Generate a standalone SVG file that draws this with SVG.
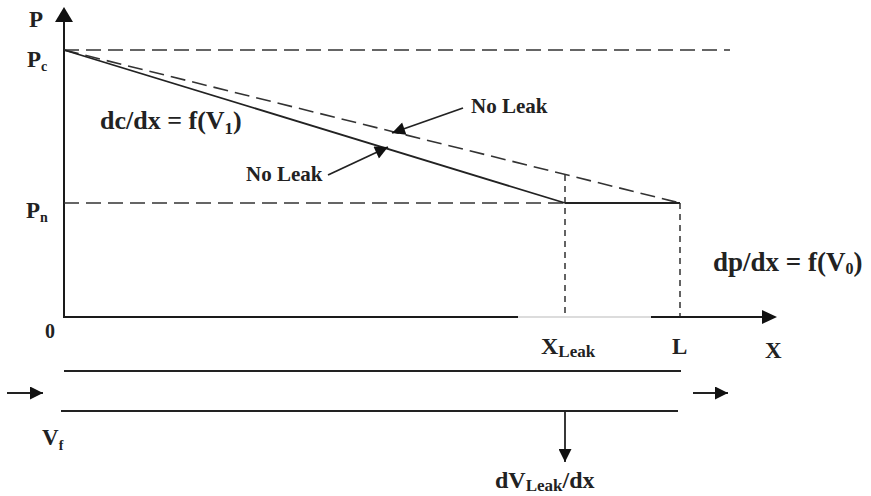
<svg xmlns="http://www.w3.org/2000/svg" width="871" height="496" viewBox="0 0 871 496">
<defs>
<style>
.ax{stroke:#1a1a1a;stroke-width:2;fill:none}
.ln{stroke:#222;stroke-width:1.8;fill:none}
.ds{stroke:#333;stroke-width:1.6;fill:none;stroke-dasharray:15 7}
.dv{stroke:#222;stroke-width:1.4;fill:none;stroke-dasharray:6 5}
.t{font-family:"Liberation Serif","Times New Roman",serif;font-weight:bold;fill:#222}
</style>
<marker id="ahs" viewBox="0 0 10 10" refX="10" refY="5" markerWidth="14" markerHeight="13" markerUnits="userSpaceOnUse" orient="auto"><path d="M0,0 L10,5 L0,10 z" fill="#111"/></marker>
</defs>
<rect width="871" height="496" fill="#fff"/>

<g id="axes">
<line class="ax" x1="64" y1="317" x2="64" y2="22"/>
<path d="M55,22 L64,7 L73,22 z" fill="#111"/>
<line class="ax" x1="63" y1="317" x2="518" y2="317"/>
<line x1="518" y1="317" x2="651" y2="317" stroke="#d0d0d0" stroke-width="1.5"/>
<line class="ax" x1="651" y1="317" x2="763" y2="317"/>
<path d="M762,310 L777,317 L762,324 z" fill="#111"/>
</g>

<g id="guides">
<line class="ds" x1="64" y1="50" x2="730" y2="50"/>
<line class="ds" x1="64" y1="203" x2="565" y2="203"/>
<line class="ds" x1="64" y1="50" x2="680" y2="203"/>
<line class="dv" x1="565" y1="175" x2="565" y2="317"/>
<line class="dv" x1="680" y1="203" x2="680" y2="317"/>
</g>

<g id="profile">
<line class="ln" x1="64" y1="50" x2="565" y2="203"/>
<line class="ln" x1="565" y1="203" x2="680" y2="203"/>
</g>

<g id="pipe">
<line class="ln" x1="64" y1="371" x2="681" y2="371"/>
<line class="ln" x1="61" y1="411" x2="678" y2="411"/>
</g>

<g id="connectors">
<line class="ln" x1="463" y1="108" x2="392" y2="133" marker-end="url(#ahs)"/>
<line class="ln" x1="328" y1="175" x2="388" y2="147" marker-end="url(#ahs)"/>
<line class="ln" x1="7" y1="393" x2="43" y2="393" marker-end="url(#ahs)"/>
<line class="ln" x1="693" y1="393" x2="728" y2="393" marker-end="url(#ahs)"/>
<line class="ln" x1="565" y1="411" x2="565" y2="462" marker-end="url(#ahs)"/>
</g>

<g id="labels">
<text class="t" x="29" y="27" font-size="23">P</text>
<text class="t" x="27" y="67" font-size="23">P<tspan font-size="14" dy="4">c</tspan></text>
<text class="t" x="26" y="218" font-size="23">P<tspan font-size="14" dy="4">n</tspan></text>
<text class="t" x="45" y="338" font-size="20">0</text>
<text class="t" x="42" y="445" font-size="23">V<tspan font-size="14" dy="5">f</tspan></text>
<text class="t" x="100" y="129" font-size="26">dc/dx = f(V<tspan font-size="17" dy="5">1</tspan><tspan dy="-5">)</tspan></text>
<text class="t" x="471" y="113" font-size="21">No Leak</text>
<text class="t" x="246" y="181" font-size="21">No Leak</text>
<text class="t" x="713" y="271" font-size="27">dp/dx = f(V<tspan font-size="16" dy="3">0</tspan><tspan dy="-3">)</tspan></text>
<text class="t" x="541" y="354" font-size="24">X<tspan font-size="17" dy="3">Leak</tspan></text>
<text class="t" x="672" y="354" font-size="23">L</text>
<text class="t" x="765" y="358" font-size="23">X</text>
<text class="t" x="495" y="488" font-size="24">dV<tspan font-size="17" dy="3">Leak</tspan><tspan dy="-3">/dx</tspan></text>
</g>
</svg>
